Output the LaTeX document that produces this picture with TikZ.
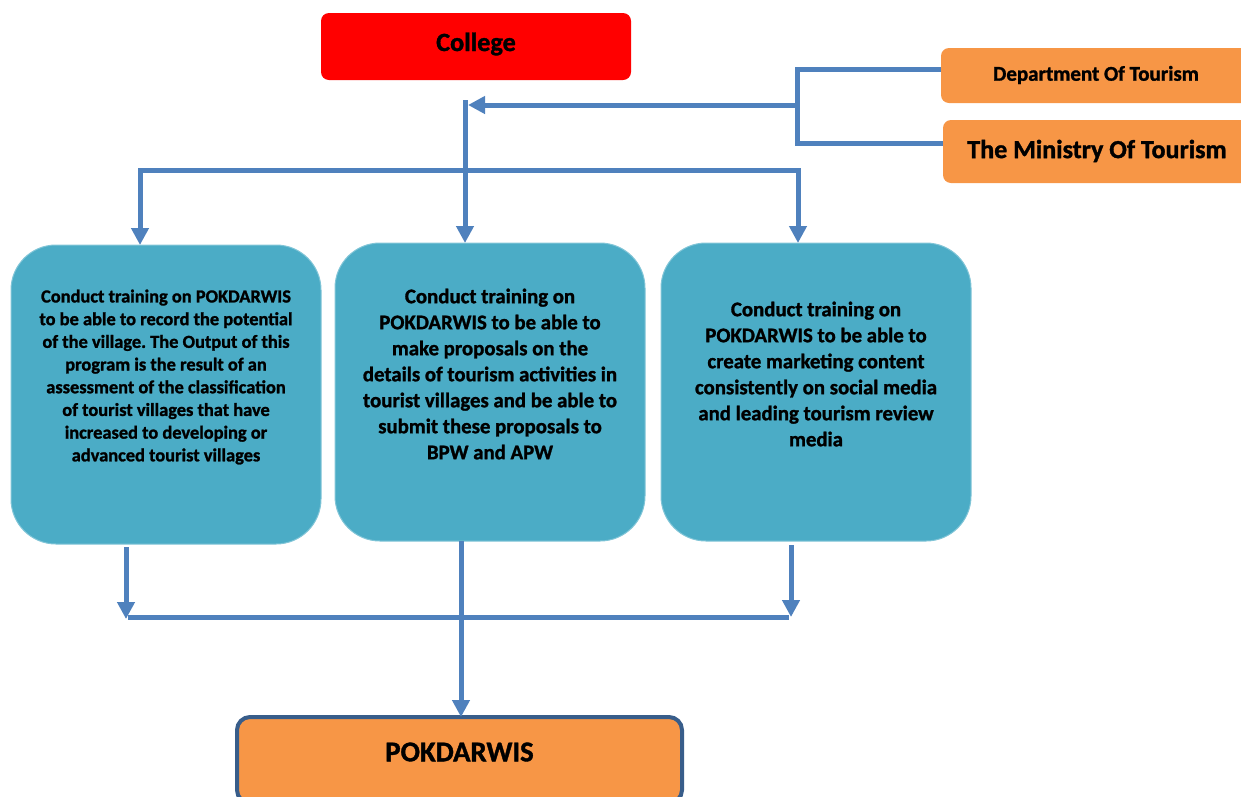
\documentclass[tikz,border=0pt]{standalone}
\usepackage{fontspec}
\setmainfont{Carlito}[BoldFeatures={FakeBold=1.3}]
\frenchspacing
\usetikzlibrary{arrows.meta}
\definecolor{lineblue}{HTML}{4F81BD}
\definecolor{tealbox}{HTML}{4BACC6}
\definecolor{orangebox}{HTML}{F79646}
\definecolor{redbox}{HTML}{FF0000}
\definecolor{darkborder}{HTML}{385D8A}
\begin{document}
\begin{tikzpicture}[x=1pt,y=-1pt,
  box/.style={inner sep=0pt, outer sep=0pt, rounded corners=8pt},
  redstyle/.style={box, fill=redbox},
  orangestyle/.style={box, fill=orangebox},
  tealstyle/.style={box, fill=tealbox, draw=tealbox!70!white, line width=1pt, rounded corners=45pt, minimum width=310pt},
  pokstyle/.style={box, fill=orangebox, draw=darkborder, line width=4pt, rounded corners=13pt},
  txt/.style={inner sep=0pt, align=center, font=\bfseries},
  conn/.style={draw=lineblue, line width=5pt},
  arr/.style={conn, -{Triangle[length=17pt,width=17pt]}},
]
\useasboundingbox (0,0) rectangle (1241,796);
\clip (0,0) rectangle (1241,796);

% boxes
\node[redstyle, minimum width=310pt, minimum height=67pt] (college) at (476,46.5) {};
\node[txt, font=\fontsize{26.3}{31}\selectfont\bfseries] (collegetxt) at (476,44) {College};

\node[orangestyle, minimum width=310pt, minimum height=55pt] (dep) at (1096,75.5) {};
\node[txt, font=\fontsize{21}{25}\selectfont\bfseries] (deptxt) at (1096,75) {Department Of Tourism};

\node[orangestyle, minimum width=308pt, minimum height=63pt] (min) at (1097,151.5) {};
\node[txt, font=\fontsize{26}{31}\selectfont\bfseries] (mintxt) at (1097,151) {The Ministry Of Tourism};

\node[tealstyle, minimum height=299pt] (b1) at (166,394.5) {};
\node[txt, font=\fontsize{18.4}{22.7}\selectfont\bfseries] (t1) at (166,377) {Conduct training on POKDARWIS\\to be able to record the potential\\of the village. The Output of this\\program is the result of an\\assessment of the classification\\of tourist villages that have\\increased to developing or\\advanced tourist villages};

\node[tealstyle, minimum height=298pt] (b2) at (490,392) {};
\node[txt, font=\fontsize{20.8}{26}\selectfont\bfseries] (t2) at (490,374) {Conduct training on\\POKDARWIS to be able to\\make proposals on the\\details of tourism activities in\\tourist villages and be able to\\submit these proposals to\\BPW and APW};

\node[tealstyle, minimum height=298pt] (b3) at (816,392) {};
\node[txt, font=\fontsize{20.8}{26}\selectfont\bfseries] (t3) at (816,374) {Conduct training on\\POKDARWIS to be able to\\create marketing content\\consistently on social media\\and leading tourism review\\media};

\node[pokstyle, minimum width=445pt, minimum height=86pt] (pok) at (459.5,760) {};
\node[txt, font=\fontsize{28.7}{34}\selectfont\bfseries] (poktxt) at (459.5,752) {POKDARWIS};

% junction coordinates
\coordinate (dj) at (797,69);
\coordinate (mj) at (797,143);
\coordinate (hj) at (797,105);
\coordinate (htip) at (468,105);
\coordinate (vtop) at (465,100);
\coordinate (lt) at (140,170);
\coordinate (rt) at (798,170);
\coordinate (bl1) at (126,547);
\coordinate (bl2) at (126,619);
\coordinate (br1) at (791,545);
\coordinate (br2) at (791,617);
\coordinate (hl) at (128,617);
\coordinate (hr) at (789,617);
\coordinate (mb) at (461,541);

% connectors
\draw[conn, line join=miter] (dep.west |- dj) -- (dj) -- (mj) -- (min.west |- mj);
\draw[arr] (hj) -- (htip);
\draw[arr] (vtop) -- (vtop |- b2.north);
\draw[conn, line join=miter, {Triangle[length=17pt,width=17pt]}-{Triangle[length=17pt,width=17pt]}] (lt |- b1.north) -- (lt) -- (rt) -- (rt |- b3.north);
\draw[arr] (bl1) -- (bl2);
\draw[arr] (br1) -- (br2);
\draw[conn] (hl) -- (hr);
\draw[arr] (mb) -- (mb |- pok.north);
\end{tikzpicture}
\end{document}
